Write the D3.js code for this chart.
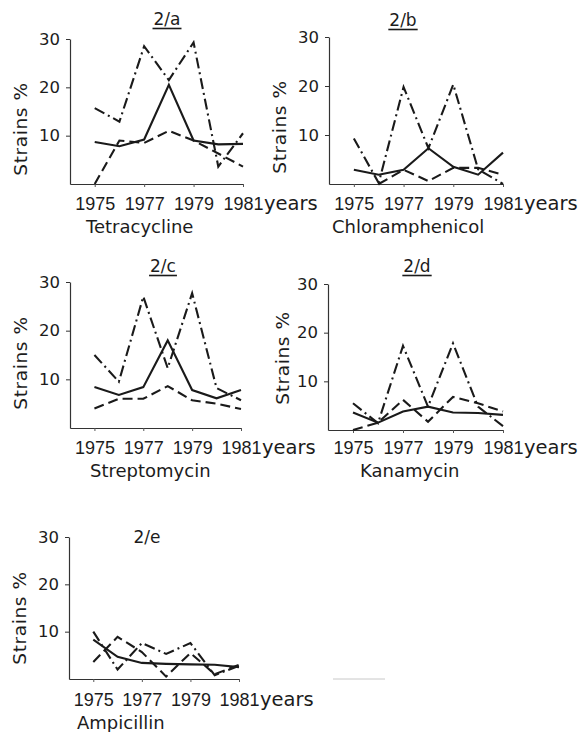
<!DOCTYPE html>
<html>
<head>
<meta charset="utf-8">
<script src="https://cdn.jsdelivr.net/npm/d3@7"></script>
<style>
  html, body { margin: 0; padding: 0; background: #fff; }
  svg { display: block; }
  text { font-family: "DejaVu Sans", "Noto Sans", sans-serif; fill: #1c1c1c; }
  .num { font-family: "Liberation Sans", Arimo, sans-serif; }
</style>
</head>
<body>
<svg id="chart" width="580" height="732"></svg>
<script>
// Percentage of resistant strains per year, three series per antibiotic
const years = [1975, 1976, 1977, 1978, 1979, 1980, 1981];
const xTickYears = [1975, 1977, 1979, 1981];
const yTickValues = [10, 20, 30];
const panelTitles = ["2/a", "2/b", "2/c", "2/d", "2/e"];
const antibiotics = ["Tetracycline", "Chloramphenicol", "Streptomycin", "Kanamycin", "Ampicillin"];

const solidSeries = [
  [8.7, 7.8, 9.2, 20.5, 9, 8.2, 8.3],
  [2.9, 1.9, 2.9, 7.3, 3.5, 1.9, 6.4],
  [8.4, 6.8, 8.4, 18, 7.8, 6.1, 7.8],
  [3.6, 1.5, 3.8, 4.8, 3.6, 3.5, 3.1],
  [8.3, 4.7, 3.4, 3.2, 3.1, 3, 2.5]
];
const dashedSeries = [
  [0, 9, 8.5, 11, 9, 6.3, 3.6],
  [null, 0, 2.9, 0.6, 3.3, 3.3, 1.9],
  [4, 6, 6, 8.6, 5.7, 5, 3.9],
  [0, 1.5, 6.2, 1.7, 6.8, 5.5, 3.8],
  [3.6, 8.9, 5.7, 0.5, 5.5, 1, 3]
];
const dashDotSeries = [
  [15.7, 12.9, 28.5, 21.5, 29.3, 3.6, 10.5],
  [9.3, 0.2, 19.8, 7.3, 20.3, 3, 0],
  [15, 9.5, 27, 12.3, 27.7, 8.2, 5.7],
  [5.5, 1.4, 17.3, 4.8, 17.8, 4.8, 0.8],
  [10, 2, 7.6, 5.3, 7.6, 0.8, 2.8]
];

// Panel placement on the page
const layout = [
  { x0: 70,  x1: 243, y0: 184, y30: 39,  titleX: 167, titleY: 25,  underline: true,  labelX: 27,  labelY: 129, nameX: 86,  nameY: 233, tickY: 210 },
  { x0: 329, x1: 503, y0: 184, y30: 37,  titleX: 403, titleY: 26,  underline: true,  labelX: 286, labelY: 127, nameX: 332, nameY: 233, tickY: 210 },
  { x0: 70,  x1: 241, y0: 428, y30: 282, titleX: 163, titleY: 272, underline: true,  labelX: 27,  labelY: 363, nameX: 90,  nameY: 477, tickY: 454 },
  { x0: 328, x1: 503, y0: 430, y30: 284, titleX: 417, titleY: 272, underline: true,  labelX: 289, labelY: 358, nameX: 360, nameY: 477, tickY: 454 },
  { x0: 69,  x1: 239, y0: 679, y30: 537, titleX: 147, titleY: 543, underline: false, labelX: 26,  labelY: 618, nameX: 77,  nameY: 729, tickY: 706 }
];

const ink = "#1a1a1a";
const svg = d3.select("#chart");

const styles = [
  { data: solidSeries,   dash: null },
  { data: dashedSeries,  dash: "10,5" },
  { data: dashDotSeries, dash: "11,4,2,4" }
];

layout.forEach((p, i) => {
  const x = d3.scaleLinear().domain([1974, 1981]).range([p.x0, p.x1]);
  const y = d3.scaleLinear().domain([0, 30]).range([p.y0, p.y30]);
  const g = svg.append("g");

  // y axis
  const yAxis = g.append("g")
    .attr("transform", `translate(${p.x0},0)`)
    .call(d3.axisLeft(y).tickValues(yTickValues).tickSize(4).tickSizeOuter(0).tickPadding(6));
  yAxis.select(".domain").attr("stroke", "#333").attr("stroke-width", 1.2);
  yAxis.selectAll(".tick line").attr("stroke", "#333");
  yAxis.selectAll(".tick text")
    .attr("font-size", 16.5).attr("font-family", null).attr("fill", ink);

  // x axis
  const xAxis = g.append("g")
    .attr("transform", `translate(0,${p.y0})`)
    .call(d3.axisBottom(x).tickValues(xTickYears).tickFormat(d3.format("d")).tickSize(3).tickSizeOuter(0));
  xAxis.select(".domain").attr("stroke", "#333").attr("stroke-width", 1.2);
  xAxis.selectAll(".tick line").attr("stroke", "#555");
  xAxis.selectAll(".tick text")
    .attr("class", "num")
    .attr("font-size", 18).attr("font-family", null).attr("fill", ink)
    .attr("y", p.tickY - p.y0).attr("dy", null);

  const lastTick = xAxis.selectAll(".tick text").filter(d => d === xTickYears[xTickYears.length - 1]);
  const lastW = lastTick.node().getComputedTextLength();
  g.append("text")
    .attr("x", x(xTickYears[xTickYears.length - 1]) + lastW / 2 + 1)
    .attr("y", p.tickY)
    .attr("font-size", 19.5)
    .text("years");

  // axis title
  g.append("text")
    .attr("transform", `translate(${p.labelX},${p.labelY}) rotate(-90)`)
    .attr("text-anchor", "middle")
    .attr("font-size", 18.5)
    .attr("letter-spacing", 0.6)
    .text("Strains %");

  // panel title
  const t = g.append("text")
    .attr("x", p.titleX).attr("y", p.titleY)
    .attr("text-anchor", "middle")
    .attr("font-size", 17)
    .text(panelTitles[i]);
  if (p.underline) {
    const w = t.node().getComputedTextLength();
    g.append("line")
      .attr("x1", p.titleX - w / 2 - 1).attr("x2", p.titleX + w / 2 + 1)
      .attr("y1", p.titleY + 3.5).attr("y2", p.titleY + 3.5)
      .attr("stroke", ink).attr("stroke-width", 1.6);
  }

  // antibiotic name
  g.append("text")
    .attr("x", p.nameX).attr("y", p.nameY)
    .attr("font-size", 18)
    .text(antibiotics[i]);

  // series lines
  const line = d3.line()
    .defined(d => d.v != null)
    .x(d => x(d.year))
    .y(d => y(d.v));
  styles.forEach(s => {
    const pts = years.map((yr, k) => ({ year: yr, v: s.data[i][k] }));
    g.append("path")
      .datum(pts)
      .attr("d", line)
      .attr("fill", "none")
      .attr("stroke", ink)
      .attr("stroke-width", 2.1)
      .attr("stroke-dasharray", s.dash);
  });
});

// faint rule to the right of the last panel
svg.append("line")
  .attr("x1", 333).attr("x2", 385).attr("y1", 679).attr("y2", 679)
  .attr("stroke", "#c8c8c8").attr("stroke-width", 1);
</script>
</body>
</html>
